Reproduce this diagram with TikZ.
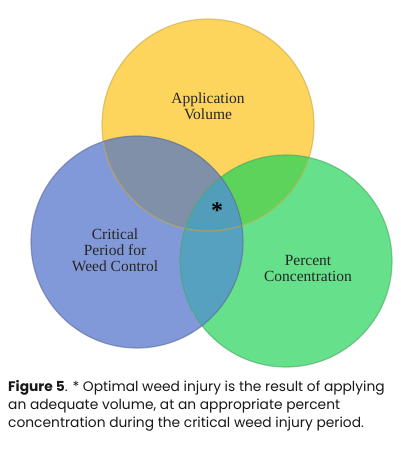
\documentclass[tikz,border=0pt]{standalone}
\usepackage{fontspec}
\setmainfont{Liberation Serif}
\newfontfamily\captionfont{Poppins}
\usepackage{xcolor}
\definecolor{volYellow}{RGB}{253,212,92}
\definecolor{periodBlue}{RGB}{130,153,217}
\definecolor{concGreen}{RGB}{102,224,138}
\definecolor{yellowBlue}{RGB}{128,144,168}
\definecolor{yellowGreen}{RGB}{92,212,92}
\definecolor{blueGreen}{RGB}{86,160,192}
\definecolor{allThree}{RGB}{82,158,186}

\begin{document}
\begin{tikzpicture}[x=1pt, y=1pt,
    venntext/.style={font=\fontsize{15.5}{16}\selectfont, align=center, text=black!85}]
        \useasboundingbox (0,0) rectangle (401,-450);
        \fill[white] (0,0) rectangle (401,-450);

        % 圆心
        \coordinate (Vol) at (208,-125);
        \coordinate (Per) at (137,-242);
        \coordinate (Con) at (286,-261);

        % 三个圆
        \fill[volYellow] (Vol) circle (106);
        \fill[concGreen] (Con) circle (106);
        \fill[periodBlue] (Per) circle (106);

        % 两两相交区域
        \begin{scope}
            \clip (Vol) circle (106);
            \fill[yellowBlue] (Per) circle (106);
        \end{scope}
        \begin{scope}
            \clip (Vol) circle (106);
            \fill[yellowGreen] (Con) circle (106);
        \end{scope}
        \begin{scope}
            \clip (Per) circle (106);
            \fill[blueGreen] (Con) circle (106);
        \end{scope}
        % 三者相交
        \begin{scope}
            \clip (Vol) circle (106);
            \clip (Per) circle (106);
            \fill[allThree] (Con) circle (106);
        \end{scope}

        % 轮廓
        \draw[line width=1.2pt, volYellow!80!black, opacity=0.6] (Vol) circle (106);
        \draw[line width=1.2pt, concGreen!75!black, opacity=0.6] (Con) circle (106);
        \draw[line width=1.2pt, periodBlue!70!black, opacity=0.6] (Per) circle (106);

        % 标签
        \node[venntext] (volLabel) at (208,-106) {Application\\Volume};
        \node[venntext] (perLabel) at (115,-250) {Critical\\Period for\\Weed Control};
        \node[venntext] (conLabel) at (308,-268) {Percent\\Concentration};
        \node[font=\fontsize{24}{24}\selectfont\bfseries] (star) at (217,-211) {*};

        % 图注
        \node[anchor=north west, align=left, inner sep=0pt, text=black!90,
            font=\captionfont\fontsize{13.8}{18}\selectfont] (caption) at (8,-380)
            {\textbf{Figure 5}. * Optimal weed injury is the result of applying\\
             an adequate volume, at an appropriate percent\\
             concentration during the critical weed injury period.};
    \end{tikzpicture}
\end{document}
